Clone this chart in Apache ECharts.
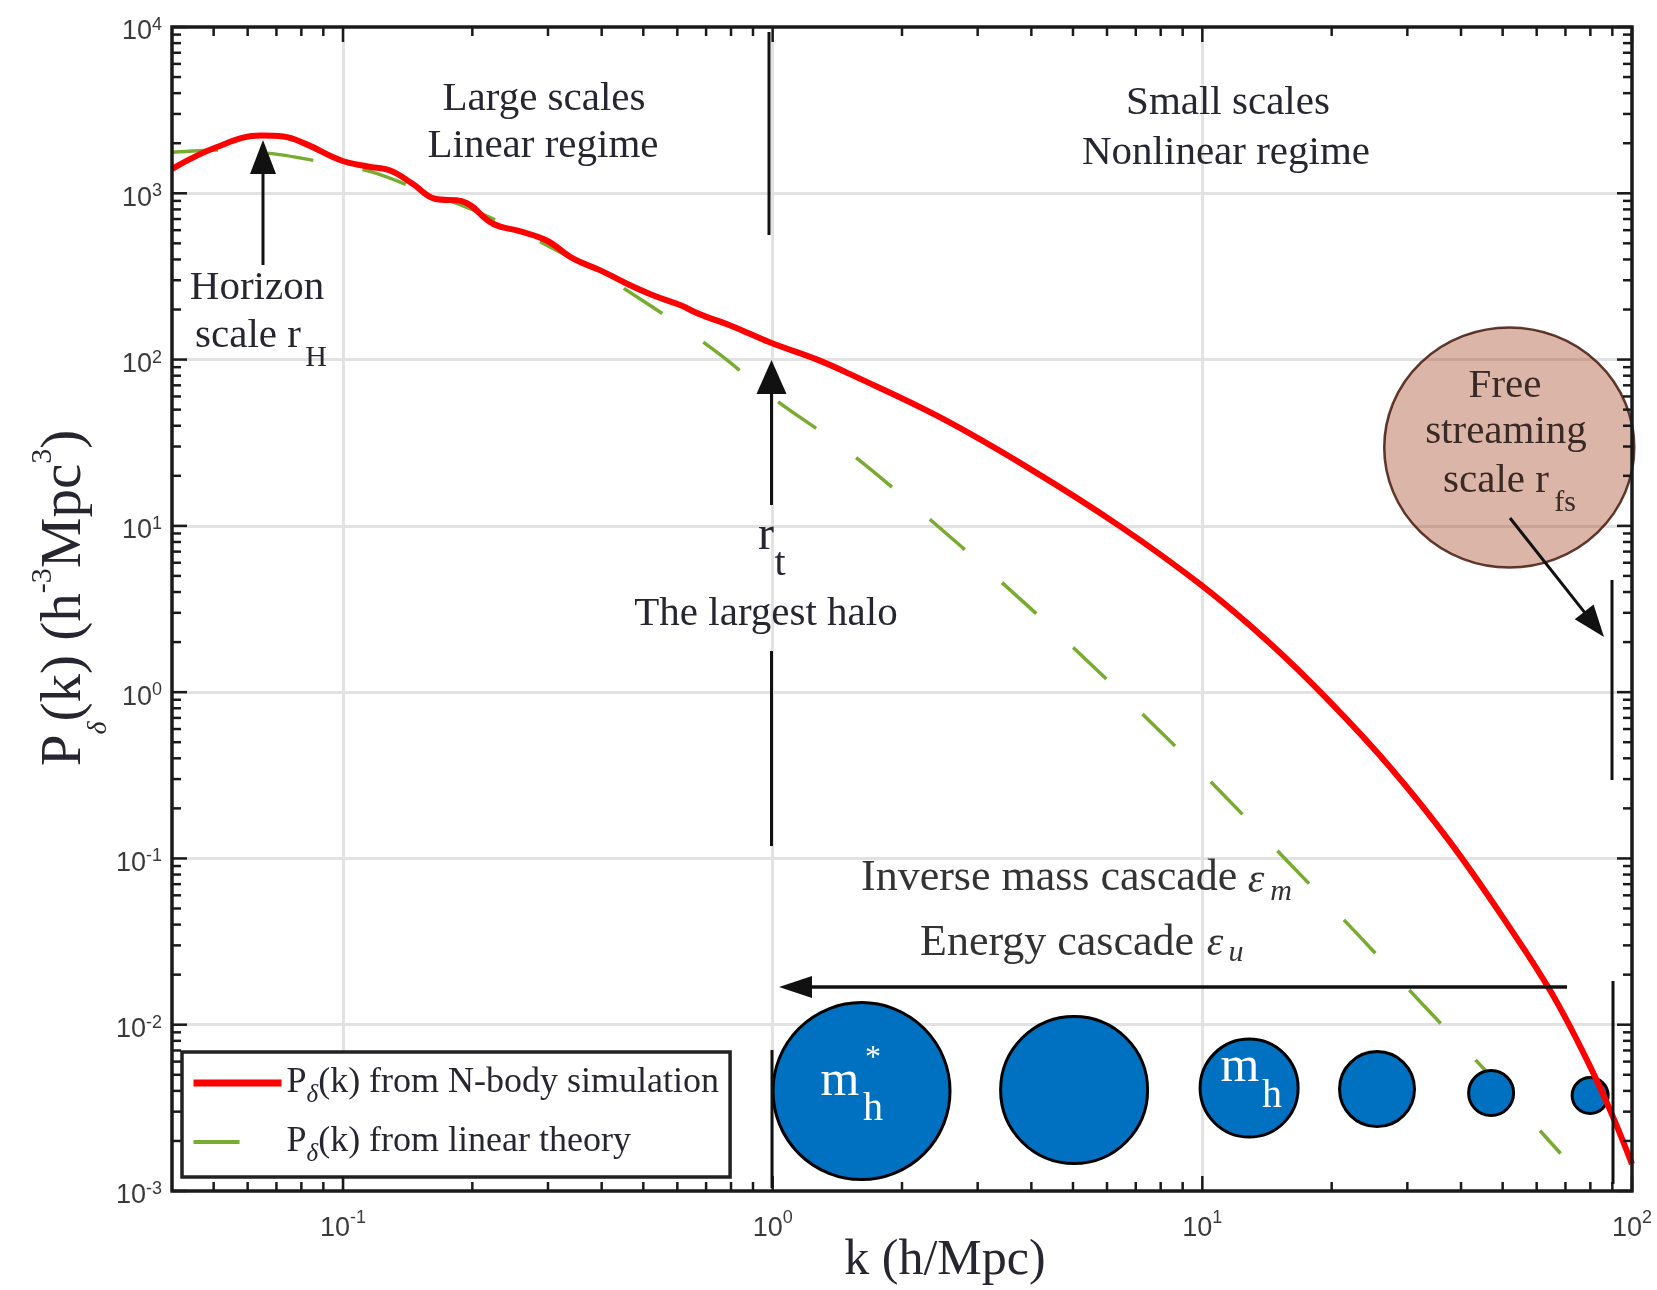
<!DOCTYPE html>
<html><head><meta charset="utf-8">
<script src="https://cdn.jsdelivr.net/npm/echarts@6/dist/echarts.min.js"></script>
<style>html,body{margin:0;padding:0;background:#fff}#c{width:1657px;height:1290px}</style>
</head><body><div id="c"></div>
<script>
// ---------------- data ----------------
const kNbody = [0.04, 0.0507, 0.0644, 0.0726, 0.0818, 0.0991, 0.1143, 0.1288, 0.1452, 0.1637, 0.1888, 0.2234, 0.2576, 0.2979, 0.3436, 0.3972, 0.4581, 0.5284, 0.6109, 0.6714, 0.8128, 0.984, 1.282, 1.51, 2.443, 3.963, 6.412, 10, 14.32, 19.77, 27.29, 37.58, 51.88, 65.01, 78.89, 89.74, 100];
const pNbody = [1403, 1892, 2223, 2193, 1982, 1574, 1449, 1371, 1140, 927, 897, 656, 592, 520, 404, 344, 286, 243, 212, 189, 157, 127, 98.9, 82.0, 45.2, 22.1, 10.0, 4.35, 1.98, 0.88, 0.356, 0.127, 0.0385, 0.0155, 0.0060, 0.0029, 0.00145];

const kLinear = [0.04, 0.0519, 0.0692, 0.0899, 0.1172, 0.1486, 0.1936, 0.246, 0.320, 0.397, 0.504, 0.625, 0.781, 0.993, 1.486, 2.254, 3.373, 5.047, 7.413, 10.91, 15.78, 23.17, 32.89, 45.6, 68.2];
const pLinear = [1766, 1824, 1726, 1538, 1340, 1064, 826, 625, 443, 328, 222, 153, 100, 59.7, 28.5, 11.7, 4.70, 1.816, 0.700, 0.259, 0.0962, 0.0342, 0.0129, 0.0053, 0.00168];

const haloK = [1.61, 5.03, 12.85, 25.5, 47.0, 79.9];
const haloP = [0.00399, 0.00405, 0.00416, 0.0041, 0.00388, 0.00375];

const freeStreamK = [51.8];
const freeStreamP = [29.6];

const xTicks = [0.1, 1, 10, 100];
const yTicks = [1e-3, 1e-2, 1e-1, 1, 10, 100, 1000, 10000];
const minorMultipliers = [2, 3, 4, 5, 6, 7, 8, 9];

// ---------------- styles ----------------
const haloSymbolSize = [177, 147, 98, 75, 45, 36];
const SERIF = '"Liberation Serif","Times New Roman",serif';
const SANS = '"Liberation Sans",Arial,sans-serif';
const TXT = '#262630';
const GRID = {left: 172, top: 27, width: 1460, height: 1164};
const X_MIN = 0.04, X_MAX = 100, Y_MIN = 1e-3, Y_MAX = 1e4;

function expLabel(v) {
  const e = Math.log10(v), r = Math.round(e);
  if (Math.abs(e - r) > 1e-6) return '';
  return '{b|10}{s|' + r + '}';
}

const tickData = [];
xTicks.forEach(v => tickData.push([v, Y_MIN, 1, 0]));
[-2, -1, 0, 1].forEach(d => minorMultipliers.forEach(m => {
  const v = m * Math.pow(10, d);
  if (v > X_MIN * 1.0001 && v < X_MAX) tickData.push([v, Y_MIN, 0, 0]);
}));
yTicks.forEach(v => tickData.push([X_MIN, v, 1, 1]));
[-3, -2, -1, 0, 1, 2, 3].forEach(d => minorMultipliers.forEach(m => {
  tickData.push([X_MIN, m * Math.pow(10, d), 0, 1]);
}));

// ---------------- annotation helpers ----------------
function txtB(text, x, baseline, fs, o) {
  o = o || {};
  return {type: 'text', x: x, y: baseline - 0.34 * fs, z: 100, silent: true,
    style: {text: text, fontFamily: SERIF, fontSize: fs, fill: o.fill || TXT,
      align: o.align || 'center', verticalAlign: 'middle', fontStyle: o.italic ? 'italic' : 'normal'}};
}
function seg(x1, y1, x2, y2, w) {
  return {type: 'line', z: 100, silent: true, shape: {x1: x1, y1: y1, x2: x2, y2: y2},
    style: {stroke: '#111', lineWidth: w || 3}};
}
function head(tx, ty, dx, dy, len, hw) {
  const n = Math.hypot(dx, dy); dx /= n; dy /= n;
  const bx = tx - dx * len, by = ty - dy * len, px = -dy, py = dx;
  return {type: 'polygon', z: 100, silent: true,
    shape: {points: [[tx, ty], [bx + px * hw, by + py * hw], [bx - px * hw, by - py * hw]]},
    style: {fill: '#111'}};
}
function arrow(x1, y1, tx, ty, len, hw, w) {
  const dx = tx - x1, dy = ty - y1, n = Math.hypot(dx, dy);
  return [seg(x1, y1, tx - dx / n * len * 0.8, ty - dy / n * len * 0.8, w), head(tx, ty, dx, dy, len, hw)];
}

const CAS = '#333';
const graphics = [].concat(
  [{type: 'rect', z: 90, silent: true, shape: {x: GRID.left, y: GRID.top, width: GRID.width, height: GRID.height},
    style: {fill: null, stroke: '#1a1a1a', lineWidth: 3.5}}],
  // axis titles
  [{type: 'text', x: 65, y: 598, rotation: Math.PI / 2, z: 100, silent: true,
    style: {text: '{a|P}{d|δ}{a|(k) (h}{u|-3}{a|Mpc}{u|3}{a|)}', align: 'center', verticalAlign: 'middle',
      rich: {a: {fontFamily: SERIF, fontSize: 57, lineHeight: 96, fill: TXT},
        d: {fontFamily: SERIF, fontSize: 28, fontStyle: 'italic', lineHeight: 28, verticalAlign: 'bottom', fill: TXT},
        u: {fontFamily: SERIF, fontSize: 30, lineHeight: 30, verticalAlign: 'top', padding: [11, 0, 0, 0], fill: TXT}}}},
   txtB('k (h/Mpc)', 945, 1278, 50)],
  // region texts
  [txtB('Large scales', 544, 113, 41), txtB('Linear regime', 543, 160, 41),
   txtB('Small scales', 1228, 117, 41), txtB('Nonlinear regime', 1226, 167, 41),
   txtB('Horizon', 257, 302, 41), txtB('scale r', 248, 350, 41), txtB('H', 316, 368, 30),
   txtB('r', 766, 553, 48), txtB('t', 780, 578, 40), txtB('The largest halo', 766, 628, 41),
   txtB('Inverse mass cascade', 861, 893, 44, {align: 'left', fill: CAS}),
   txtB('ε', 1256, 895, 42, {italic: true, fill: CAS}), txtB('m', 1281, 902, 30, {italic: true, fill: CAS}),
   txtB('Energy cascade', 920, 958, 44, {align: 'left', fill: CAS}),
   txtB('ε', 1215, 958, 42, {italic: true, fill: CAS}), txtB('u', 1236, 963, 30, {italic: true, fill: CAS}),
   txtB('Free', 1505, 400, 41, {fill: '#3a2a26'}), txtB('streaming', 1506, 446, 41, {fill: '#3a2a26'}),
   txtB('scale r', 1496, 495, 41, {fill: '#3a2a26'}), txtB('fs', 1565, 513, 30, {fill: '#3a2a26'}),
   txtB('m', 840, 1099, 50, {fill: '#fff'}), txtB('h', 873, 1123, 40, {fill: '#fff'}), txtB('*', 873, 1069, 32, {fill: '#fff'}),
   txtB('m', 1240, 1085, 50, {fill: '#fff'}), txtB('h', 1272, 1110, 40, {fill: '#fff'})],
  // vertical marker lines
  [seg(769, 32, 769, 235), seg(771.5, 651, 771.5, 846), seg(772, 1050, 772, 1188),
   seg(1612, 580, 1612, 780), seg(1613, 981, 1613, 1184)],
  // arrows
  arrow(263, 265, 263, 140, 34, 13, 3),
  arrow(771.5, 505, 771.5, 360, 34, 15, 3),
  arrow(1567, 987, 779, 987, 33, 11, 3.5),
  arrow(1510, 518, 1604, 637, 32, 12, 3)
);

const chart = echarts.init(document.getElementById('c'), null, {renderer: 'canvas'});
chart.setOption({
  animation: false,
  backgroundColor: '#fff',
  grid: {left: GRID.left, top: GRID.top, width: GRID.width, height: GRID.height, containLabel: false},
  xAxis: {type: 'log', logBase: 10, min: X_MIN, max: X_MAX,
    axisLine: {show: false}, axisTick: {show: false}, minorTick: {show: false},
    splitLine: {show: true, showMinLine: false, showMaxLine: false, lineStyle: {color: '#e2e2e2', width: 3}},
    axisLabel: {interval: 0, formatter: expLabel, margin: 18, color: '#3a3a3a',
      rich: {b: {fontFamily: SANS, fontSize: 27, lineHeight: 40, color: '#3a3a3a'},
        s: {fontFamily: SANS, fontSize: 18, lineHeight: 18, verticalAlign: 'top', color: '#3a3a3a'}}}},
  yAxis: {type: 'log', logBase: 10, min: Y_MIN, max: Y_MAX,
    axisLine: {show: false}, axisTick: {show: false}, minorTick: {show: false},
    splitLine: {show: true, showMinLine: false, showMaxLine: false, lineStyle: {color: '#e2e2e2', width: 3}},
    axisLabel: {interval: 0, formatter: expLabel, margin: 10, color: '#3a3a3a',
      rich: {b: {fontFamily: SANS, fontSize: 27, lineHeight: 30, padding: [10, 0, 0, 0], color: '#3a3a3a'},
        s: {fontFamily: SANS, fontSize: 18, lineHeight: 18, padding: [4, 0, 0, 0], verticalAlign: 'top', color: '#3a3a3a'}}}},
  legend: {left: 182, top: 1052, orient: 'vertical', selectedMode: false,
    padding: [13, 11, 10, 8], itemGap: 16, itemWidth: 88, itemHeight: 30,
    borderColor: '#222', borderWidth: 3.5, backgroundColor: '#fff', borderRadius: 0,
    data: [{name: 'Pδ(k) from N-body simulation', lineStyle: {width: 7},
            itemStyle: {opacity: 0, color: 'rgba(0,0,0,0)', borderWidth: 0}},
           {name: 'Pδ(k) from linear theory', lineStyle: {width: 4},
            itemStyle: {opacity: 0, color: 'rgba(0,0,0,0)', borderWidth: 0}}],
    formatter: n => '{p|P}{d|δ}{p|' + n.slice(2) + '}',
    textStyle: {fontFamily: SERIF, fontSize: 36, color: TXT,
      rich: {p: {fontFamily: SERIF, fontSize: 36, color: TXT, lineHeight: 50},
        d: {fontFamily: SERIF, fontSize: 25, fontStyle: 'italic', color: TXT, lineHeight: 26, verticalAlign: 'bottom'}}}},
  series: [
    {type: 'scatter', name: 'free streaming', z: 2, silent: true,
      data: freeStreamK.map((k, i) => ({value: [k, freeStreamP[i]], symbolSize: [250, 240]})),
      itemStyle: {color: 'rgba(168,70,40,0.5)', borderColor: '#3a0c00', borderWidth: 2.5}},
    {type: 'line', name: 'Pδ(k) from linear theory', z: 3, symbol: 'none', smooth: 0.3,
      data: kLinear.map((k, i) => [k, pLinear[i]]),
      lineStyle: {color: '#77ac30', width: 3.5, type: [46, 50]}, itemStyle: {color: '#77ac30'}},
    {type: 'scatter', name: 'halos', z: 4, silent: true,
      data: haloK.map((k, i) => ({value: [k, haloP[i]], symbolSize: haloSymbolSize[i]})),
      itemStyle: {color: '#0070c0', borderColor: '#000', borderWidth: 3, opacity: 1}},
    {type: 'line', name: 'Pδ(k) from N-body simulation', z: 5, symbol: 'none', smooth: 0.4,
      data: kNbody.map((k, i) => [k, pNbody[i]]),
      lineStyle: {color: '#ff0000', width: 6}, itemStyle: {color: '#ff0000'}},
    {type: 'custom', name: 'ticks', z: 6, silent: true, clip: false,
      dimensions: ['a', 'b', 'major', 'orient'], encode: {x: 0, y: 1},
      data: tickData,
      renderItem: function (params, api) {
        const a = api.value(0), b = api.value(1), major = api.value(2), orient = api.value(3);
        const L = major ? 15 : 9;
        const st = {stroke: '#1a1a1a', lineWidth: 2.5};
        if (orient === 0) {
          const p0 = api.coord([a, Y_MIN]), p1 = api.coord([a, Y_MAX]);
          return {type: 'group', children: [
            {type: 'line', shape: {x1: p0[0], y1: p0[1], x2: p0[0], y2: p0[1] - L}, style: st},
            {type: 'line', shape: {x1: p1[0], y1: p1[1], x2: p1[0], y2: p1[1] + L}, style: st}]};
        }
        const q0 = api.coord([X_MIN, b]), q1 = api.coord([X_MAX, b]);
        return {type: 'group', children: [
          {type: 'line', shape: {x1: q0[0], y1: q0[1], x2: q0[0] + L, y2: q0[1]}, style: st},
          {type: 'line', shape: {x1: q1[0], y1: q1[1], x2: q1[0] - L, y2: q1[1]}, style: st}]};
      }}
  ],
  graphic: {elements: graphics}
});
</script></body></html>
